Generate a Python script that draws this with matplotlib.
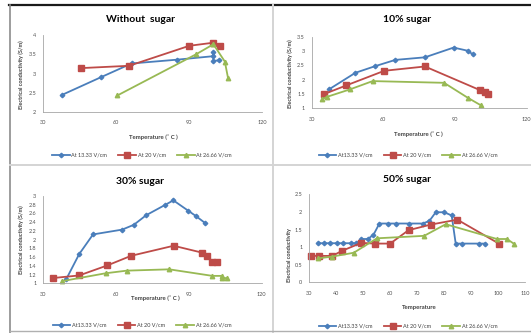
import matplotlib
matplotlib.use("Agg")
import matplotlib.pyplot as plt
from matplotlib.lines import Line2D
from matplotlib.ticker import FuncFormatter

plt.rcParams['font.family'] = ['Lato', 'DejaVu Sans']

# ---- data: temperature (C) vs electrical conductivity (S/m) ----
# without sugar
t0_a = [37.9, 53.6, 66.3, 85.2, 100.0, 100.0, 100.0, 102.4]
s0_a = [2.45, 2.90, 3.26, 3.36, 3.45, 3.56, 3.33, 3.34]
t0_b = [45.5, 65.3, 90.1, 100.0, 102.8]
s0_b = [3.14, 3.20, 3.72, 3.80, 3.72]
t0_c = [60.5, 92.9, 100.0, 104.7, 106.0]
s0_c = [2.43, 3.50, 3.76, 3.31, 2.89]

# 10% sugar
t1_a = [37.4, 48.3, 56.5, 65.0, 77.4, 89.4, 95.3, 97.5]
s1_a = [1.67, 2.24, 2.47, 2.69, 2.78, 3.12, 3.01, 2.88]
t1_b = [35.3, 44.5, 60.4, 77.4, 100.3, 102.4, 103.8]
s1_b = [1.50, 1.80, 2.31, 2.46, 1.64, 1.58, 1.51]
t1_c = [34.4, 36.4, 46.0, 55.5, 85.4, 95.3, 100.7]
s1_c = [1.32, 1.40, 1.66, 1.95, 1.89, 1.37, 1.11]

# 30% sugar
t3_a = [39.5, 44.8, 50.5, 62.5, 67.3, 72.4, 80.0, 83.6, 89.8, 92.9, 96.7]
s3_a = [1.10, 1.67, 2.12, 2.23, 2.34, 2.56, 2.79, 2.90, 2.66, 2.54, 2.38]
t3_b = [33.9, 44.8, 56.4, 66.2, 83.7, 95.6, 97.6, 99.7, 101.5]
s3_b = [1.12, 1.18, 1.41, 1.63, 1.86, 1.70, 1.63, 1.48, 1.48]
t3_c = [37.8, 55.7, 64.4, 81.9, 99.7, 103.5, 103.5, 105.5]
s3_c = [1.05, 1.23, 1.29, 1.32, 1.17, 1.17, 1.12, 1.12]

# 50% sugar
t5_a = [33.3, 35.4, 37.6, 40.3, 42.5, 45.3, 47.5, 49.3, 51.7, 53.8, 56.0,
        59.1, 62.2, 67.1, 72.0, 74.5, 76.9, 80.0, 82.8, 84.3, 86.7, 92.9, 95.1]
s5_a = [1.11, 1.11, 1.11, 1.11, 1.11, 1.11, 1.11, 1.23, 1.23, 1.35, 1.67,
        1.67, 1.67, 1.67, 1.67, 1.74, 1.99, 1.99, 1.90, 1.10, 1.10, 1.10, 1.10]
t5_b = [30.5, 33.6, 38.5, 42.3, 49.3, 54.2, 60.0, 66.8, 75.1, 84.9, 100.3]
s5_b = [0.75, 0.75, 0.75, 0.90, 1.12, 1.10, 1.10, 1.48, 1.64, 1.78, 1.10]
t5_c = [33.3, 38.5, 46.5, 55.1, 72.6, 80.6, 99.6, 103.3, 105.8]
s5_c = [0.68, 0.73, 0.84, 1.25, 1.32, 1.65, 1.23, 1.23, 1.10]

W, H = 531, 333
fig = plt.figure(figsize=(W / 100, H / 100), dpi=100)

blue, red, green = '#4A7EBB', '#BE4B48', '#98B954'
axis_grey = '#A6A6A6'
styles = [(blue, 'D', 2.3), (red, 's', 4.0), (green, '^', 3.2)]


def add_panel(x0, x1, y_top, y_bot, xlim, ylim, xticks, yticks, series):
    ax = fig.add_axes([x0 / W, 1 - y_bot / H, (x1 - x0) / W, (y_bot - y_top) / H])
    ax.set_facecolor('none')
    ax.set_xlim(*xlim)
    ax.set_ylim(*ylim)
    ax.set_xticks(xticks)
    ax.set_yticks(yticks)
    ax.yaxis.set_major_formatter(FuncFormatter(lambda v, pos: '%g' % round(v, 2)))
    for side in ('top', 'right'):
        ax.spines[side].set_visible(False)
    for side in ('left', 'bottom'):
        ax.spines[side].set_color(axis_grey)
        ax.spines[side].set_linewidth(0.6)
    ax.tick_params(length=0, labelsize=4, colors='#505050')
    ax.tick_params(axis='x', pad=6)
    ax.tick_params(axis='y', pad=5)
    for (t, s), (c, m, ms) in zip(series, styles):
        ax.plot(t, s, color=c, marker=m, markersize=ms, linewidth=1.3,
                markeredgecolor=c, clip_on=False)
    return ax


add_panel(43.3, 262, 35, 112, (30, 120), (2, 4), [30, 60, 90, 120],
          [2, 2.5, 3, 3.5, 4], [(t0_a, s0_a), (t0_b, s0_b), (t0_c, s0_c)])
add_panel(311.7, 526.7, 36.7, 108.3, (30, 120), (1, 3.5), [30, 60, 90, 120],
          [1, 1.5, 2, 2.5, 3, 3.5], [(t1_a, s1_a), (t1_b, s1_b), (t1_c, s1_c)])
add_panel(43.3, 261.7, 196, 283.3, (30, 120), (1, 3), [30, 60, 90, 120],
          [1 + 0.2 * i for i in range(11)],
          [(t3_a, s3_a), (t3_b, s3_b), (t3_c, s3_c)])
add_panel(309.3, 525, 194.3, 282.3, (30, 110), (0, 2.5),
          list(range(30, 111, 10)), [0, 0.5, 1, 1.5, 2, 2.5],
          [(t5_a, s5_a), (t5_b, s5_b), (t5_c, s5_c)])


def ftext(x, y, s, **kw):
    fig.text(x / W, 1 - y / H, s, ha='center', va='center', **kw)


# titles
ftext(140, 19, 'Without  sugar', fontsize=7.5, fontweight='bold')
ftext(407, 19, '10% sugar', fontsize=7.5, fontweight='bold')
ftext(140, 181, '30% sugar', fontsize=7.5, fontweight='bold')
ftext(407, 180, '50% sugar', fontsize=7.5, fontweight='bold')

# axis labels
xl = 'Temperature (\u02da C )'
ftext(153, 137, xl, fontsize=4.3, fontweight='bold', color='#404040')
ftext(418, 134, xl, fontsize=4.3, fontweight='bold', color='#404040')
ftext(155, 298, xl, fontsize=4.3, fontweight='bold', color='#404040')
ftext(419, 307, 'Temperature', fontsize=4.3, fontweight='bold', color='#404040')

yl = 'Electrical conductivity (S/m)'
ftext(21, 75, yl, fontsize=4, fontweight='bold', rotation=90, color='#404040')
ftext(290, 74, yl, fontsize=4, fontweight='bold', rotation=90, color='#404040')
ftext(21, 240, yl, fontsize=4, fontweight='bold', rotation=90, color='#404040')
ftext(289, 255, 'Electrical conductivity', fontsize=4, fontweight='bold',
      rotation=90, color='#404040')


# legends
def legend_at(x, y, labels):
    handles = [Line2D([], [], color=c, marker=m, markersize=ms, linewidth=1.3)
               for c, m, ms in styles]
    fig.legend(handles, labels, loc='center', bbox_to_anchor=(x / W, 1 - y / H),
               ncol=3, frameon=False, fontsize=4, handlelength=3.2,
               columnspacing=2.0, handletextpad=0.3, labelcolor='#404040')


legend_at(142, 155, ['At 13.33 V/cm', 'At 20 V/cm', 'At 26.66 V/cm'])
legend_at(408, 155, ['At13.33 V/cm', 'At 20 V/cm', 'At 26.66 V/cm'])
legend_at(142, 325, ['At13.33 V/cm', 'At 20 V/cm', 'At 26.66 V/cm'])
legend_at(408, 326, ['At13.33 V/cm', 'At 20 V/cm', 'At 26.66 V/cm'])


# panel frame lines
def hline(y, x0, x1, color, lw):
    fig.add_artist(Line2D([x0 / W, x1 / W], [1 - y / H, 1 - y / H],
                          color=color, linewidth=lw))


def vline(x, y0, y1, color, lw):
    fig.add_artist(Line2D([x / W, x / W], [1 - y0 / H, 1 - y1 / H],
                          color=color, linewidth=lw))


hline(5, 9, W, '#1a1a1a', 1.6)
vline(10, 5, 333, '#8c8c8c', 1.2)
vline(273, 5, 333, '#d4d4d4', 1.4)
hline(165, 10, W, '#d4d4d4', 1.4)
hline(331, 10, W, '#b0b0b0', 1.0)

fig.savefig('out.png', dpi=100)
